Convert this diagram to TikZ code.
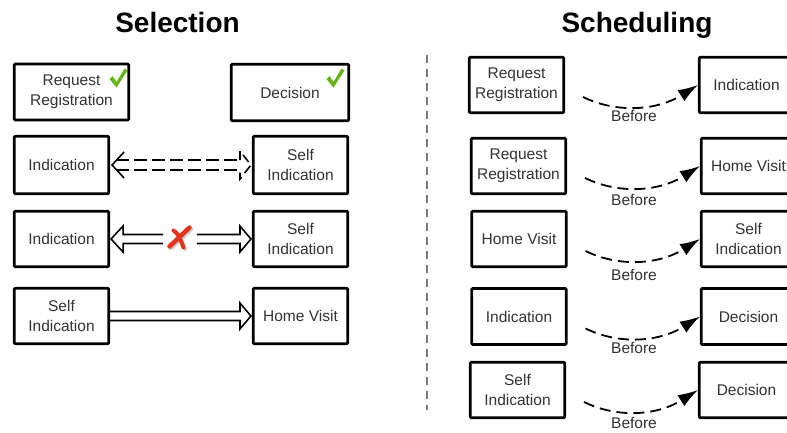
\documentclass[tikz,border=0pt]{standalone}
\usepackage{fontspec}
\setmainfont{Liberation Sans}
\usetikzlibrary{arrows.meta,calc}
\definecolor{txt}{HTML}{333333}
\definecolor{chkgreen}{RGB}{102,180,20}
\definecolor{xred}{RGB}{226,52,28}
\definecolor{sepgray}{RGB}{125,125,125}
\begin{document}
\begin{tikzpicture}[x=1pt,y=-1pt,
  box/.style={draw=black, line width=2.6pt, fill=white, text=txt, rounded corners=1pt,
    font=\fontsize{15.5}{19.5}\selectfont, align=center, inner sep=0pt},
  bx/.style 2 args={box, minimum width=#1pt, minimum height=#2pt},
  ttl/.style={font=\bfseries\fontsize{28}{30}\selectfont, anchor=base, inner sep=0pt},
  lbl/.style={text=txt, font=\fontsize{15.5}{19}\selectfont, inner sep=0pt},
  befarrow/.style={line width=1.8pt, dash pattern=on 11pt off 6pt,
    -{Latex[length=20pt,width=13pt]}},
  hollow/.style={line width=1.6pt, line join=miter},
  dhollow/.style={line width=1.6pt, dash pattern=on 13pt off 5pt},
  chk/.pic={\fill[chkgreen] (-8.5,1) -- (-5.5,-2) -- (-1.5,4) -- (6.5,-9.5) -- (9.5,-7.5) -- (-1.5,9.5) -- cycle;}
]
\useasboundingbox (0,0) rectangle (787,432);
\clip (0,0) rectangle (787,432);

% titles
\node[ttl] (T1) at (177.5,32) {Selection};
\node[ttl] (T2) at (637,32) {Scheduling};

% separator
\draw[sepgray, line width=1.5pt, dash pattern=on 8pt off 6pt] (427,55) -- (427,410);

% ---------------- Selection ----------------
\node[bx={114.5}{56}] (A1) at (71.5,92) {Request\\Registration};
\node[bx={117.5}{56.5}] (A2) at (290,92.5) {Decision};
\node[bx={94.5}{57.5}] (B1) at (61.5,165) {Indication};
\node[bx={94.5}{57.5}] (B2) at (300.5,165) {Self\\Indication};
\node[bx={94.5}{55.5}] (C1) at (61.5,239) {Indication};
\node[bx={94.5}{55.5}] (C2) at (300.5,239) {Self\\Indication};
\node[bx={94.5}{55.5}] (D1) at (61.5,316) {Self\\Indication};
\node[bx={94.5}{55.5}] (D2) at (300.5,316) {Home Visit};

\pic at (118,78) {chk};
\pic at (335,78) {chk};

% row 2: dashed hollow arrow
\draw[dhollow] ([shift={(6,-5)}]B1.east) -- ([shift={(-12,-5)}]B2.west);
\draw[dhollow] ([shift={(6,5)}]B1.east) -- ([shift={(-12,5)}]B2.west);
\draw[hollow] ([shift={(14,-13)}]B1.east) -- ([xshift=2]B1.east) -- ([shift={(14,13)}]B1.east);
\draw[line width=1.6pt, dash pattern=on 9pt off 5pt]
  ([shift={(-12,-5)}]B2.west) -- ([shift={(-12,-14)}]B2.west) -- ([xshift=-1]B2.west)
  -- ([shift={(-12,14)}]B2.west) -- ([shift={(-12,5)}]B2.west);

% row 3: blocked double hollow arrow
\draw[hollow] ([shift={(53,-4.5)}]C1.east) -- ([shift={(13,-4.5)}]C1.east)
  -- ([shift={(13,-13)}]C1.east) -- ([xshift=1]C1.east) -- ([shift={(13,13)}]C1.east)
  -- ([shift={(13,4.5)}]C1.east) -- ([shift={(53,4.5)}]C1.east);
\draw[hollow] ([shift={(-55,-4.5)}]C2.west) -- ([shift={(-12,-4.5)}]C2.west)
  -- ([shift={(-12,-13)}]C2.west) -- ([xshift=-1]C2.west) -- ([shift={(-12,13)}]C2.west)
  -- ([shift={(-12,4.5)}]C2.west) -- ([shift={(-55,4.5)}]C2.west);
% red cross
\begin{scope}[shift={(179.5,237.5)}]
  \begin{scope}[shift={(1.5,1.5)}]
    \draw[black!20, line width=4.5pt, line cap=round] (-10,9) -- (10,-10);
    \draw[black!20, line width=4pt, line cap=round] (-6,-7) .. controls (-1,-3) .. (4,10);
  \end{scope}
  \draw[xred, line width=4.5pt, line cap=round] (-10,9) -- (10,-10);
  \draw[xred, line width=4pt, line cap=round] (-6,-7) .. controls (-1,-3) .. (4,10);
\end{scope}

% row 4: hollow arrow
\draw[hollow] ([shift={(0,-4.5)}]D1.east) -- ([shift={(-12,-4.5)}]D2.west)
  -- ([shift={(-12,-13)}]D2.west) -- ([xshift=-1]D2.west) -- ([shift={(-12,13)}]D2.west)
  -- ([shift={(-12,4.5)}]D2.west) -- ([shift={(0,4.5)}]D1.east);

% ---------------- Scheduling ----------------
\node[bx={94.5}{55.5}] (R1a) at (516.5,85) {Request\\Registration};
\node[bx={94.5}{55.5}] (R1b) at (746.5,85) {Indication};
\node[bx={94.5}{55.5}] (R2a) at (518.5,166) {Request\\Registration};
\node[bx={94.5}{55.5}] (R2b) at (748.5,166) {Home Visit};
\node[bx={94.5}{55.5}] (R3a) at (519,239) {Home Visit};
\node[bx={94.5}{55.5}] (R3b) at (748.5,239) {Self\\Indication};
\node[bx={94.5}{56}] (R4a) at (519,316.5) {Indication};
\node[bx={94.5}{56}] (R4b) at (748.5,316.5) {Decision};
\node[bx={94.5}{55.5}] (R5a) at (517.5,390) {Self\\Indication};
\node[bx={94.5}{55.5}] (R5b) at (746.5,390) {Decision};

\foreach \a/\b in {R1a/R1b,R2a/R2b,R3a/R3b,R4a/R4b,R5a/R5b}{
  \draw[befarrow] ([shift={(18,12)}]\a.east) .. controls +(35,17) and +(-40,25) .. (\b.west);
}
\node[lbl] (L1) at (634,116) {Before};
\node[lbl] (L2) at (634,200) {Before};
\node[lbl] (L3) at (634,275) {Before};
\node[lbl] (L4) at (634,348) {Before};
\node[lbl] (L5) at (634,423) {Before};
\end{tikzpicture}
\end{document}
